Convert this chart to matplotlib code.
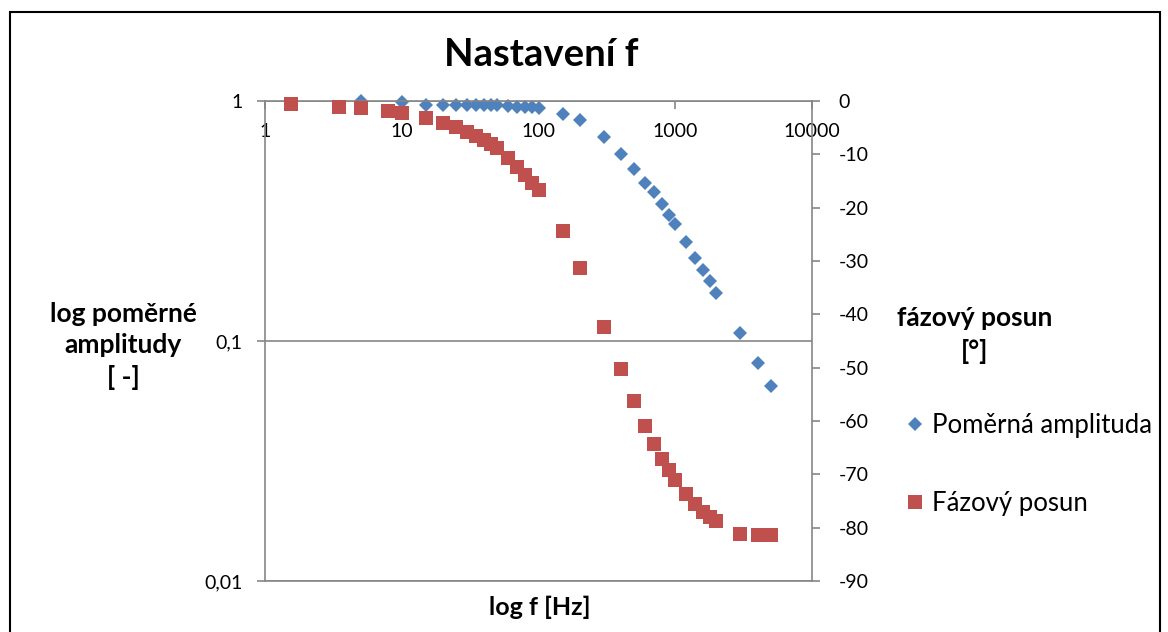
import matplotlib
matplotlib.use("Agg")
import matplotlib.pyplot as plt
from matplotlib.patches import Rectangle
from matplotlib.ticker import NullLocator

plt.rcParams["font.family"] = ["Lato", "DejaVu Sans"]
plt.rcParams["axes.unicode_minus"] = False

# relative amplitude of the output vs. frequency
freq_amp = [5, 10, 15, 20, 25, 30, 35, 40, 45, 50, 60, 70, 80, 90, 100,
            150, 200, 300, 400, 500, 600, 700, 800, 900, 1000,
            1200, 1400, 1600, 1800, 2000, 3000, 4000, 5000]
amplitude = [1.0, 0.99, 0.965, 0.965, 0.965, 0.965, 0.965, 0.965, 0.965, 0.962,
             0.95, 0.945, 0.94, 0.94, 0.935,
             0.88, 0.83, 0.71, 0.60, 0.52, 0.455, 0.418, 0.373, 0.336, 0.306,
             0.258, 0.222, 0.198, 0.178, 0.159, 0.108, 0.081, 0.065]

# phase shift [deg] vs. frequency
freq_phase = [1.55, 3.5, 5, 8, 10, 15, 20, 25, 30, 35, 40, 45, 50,
              60, 70, 80, 90, 100, 150, 200, 300,
              400, 500, 600, 700, 800, 900, 1000,
              1200, 1400, 1600, 1800, 2000, 3000, 4000, 5000]
phase = [-0.6, -1.1, -1.4, -1.8, -2.2, -3.2, -4.1, -4.9, -5.8, -6.6, -7.4, -8.0, -8.8,
         -10.7, -12.3, -13.9, -15.4, -16.7, -24.4, -31.3, -42.4,
         -50.3, -56.3, -60.9, -64.3, -67.1, -69.2, -71.1,
         -73.7, -75.6, -77.0, -78.0, -78.8, -81.1, -81.4, -81.4]

x_ticks = [1, 10, 100, 1000, 10000]
x_tick_labels = ["1", "10", "100", "1000", "10000"]
amp_ticks = [0.01, 0.1, 1]
amp_tick_labels = ["0,01", "0,1", "1"]
phase_ticks = list(range(-90, 1, 10))

BLUE = "#4F81BD"
RED = "#C0504D"
GRAY = "#868686"

W, H = 1168, 632
fig = plt.figure(figsize=(W / 100, H / 100), dpi=100)
ax = fig.add_axes([265 / W, 1 - 581 / H, (812 - 265) / W, (581 - 101) / H])
ax2 = ax.twinx()

amp_line, = ax.plot(freq_amp, amplitude, linestyle="none", marker="D", ms=7.4,
                    mew=0, color=BLUE, clip_on=False, label="Poměrná amplituda")
phase_line, = ax2.plot(freq_phase, phase, linestyle="none", marker="s", ms=10.5,
                       mew=0, color=RED, clip_on=False, label="Fázový posun")

ax.set_xscale("log")
ax.set_yscale("log")
ax.set_xlim(1, 10000)
ax.set_ylim(0.01, 1)
ax2.set_ylim(-90, 0)

ax.set_xticks(x_ticks, x_tick_labels)
ax.set_yticks(amp_ticks, amp_tick_labels)
ax.xaxis.set_minor_locator(NullLocator())
ax.yaxis.set_minor_locator(NullLocator())
ax2.set_yticks(phase_ticks)

# x axis crosses at amplitude 1, i.e. along the top edge
ax.spines["bottom"].set_position(("data", 1))
for side in ("top", "right"):
    ax.spines[side].set_visible(False)
for side in ("top", "left"):
    ax2.spines[side].set_visible(False)
for sp in (ax.spines["bottom"], ax.spines["left"], ax2.spines["right"], ax2.spines["bottom"]):
    sp.set_color(GRAY)
    sp.set_linewidth(1.2)

ax.yaxis.grid(True, color=GRAY, linewidth=1.2)
ax.tick_params(axis="both", direction="out", length=6, width=1.2, color=GRAY,
               labelsize=14, pad=10)
ax2.tick_params(axis="y", direction="out", length=6, width=1.2, color=GRAY,
                labelsize=14, pad=13)

fig.text(541 / W, 1 - 55 / H, "Nastavení f", ha="center", va="center",
         fontsize=27.5, fontweight="bold")
fig.text(540 / W, 1 - 607 / H, "log f [Hz]", ha="center", va="center",
         fontsize=18, fontweight="bold")
fig.text(123 / W, 1 - 346 / H, "log poměrné\namplitudy\n[ -]", ha="center",
         va="center", fontsize=19, fontweight="bold", linespacing=1.38)
fig.text(975 / W, 1 - 335 / H, "fázový posun\n[°]", ha="center", va="center",
         fontsize=19, fontweight="bold", linespacing=1.45)

fig.legend(handles=[amp_line, phase_line], loc="upper left",
           bbox_to_anchor=(905 / W, 1 - 413 / H), frameon=False, fontsize=18.5,
           numpoints=1, handlelength=0.75, handletextpad=0.3, labelspacing=2.05,
           borderpad=0, borderaxespad=0)

# chart frame
fig.patches.append(Rectangle((10 / W, -0.05), (1160 - 10) / W, 1 - 12 / H + 0.05,
                             transform=fig.transFigure, fill=False,
                             edgecolor="black", linewidth=1.5))

fig.savefig("out.png", dpi=100)
